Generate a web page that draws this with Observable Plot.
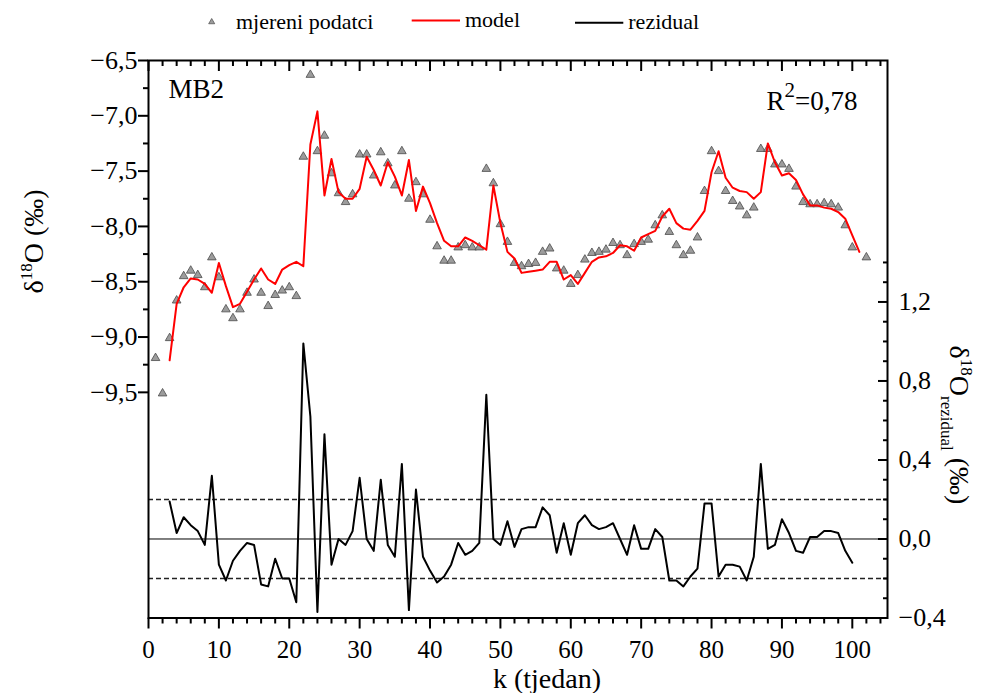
<!DOCTYPE html>
<html><head><meta charset="utf-8">
<script src="https://cdn.jsdelivr.net/npm/d3@7"></script>
<script src="https://cdn.jsdelivr.net/npm/@observablehq/plot@0.6"></script>
<style>
html,body{margin:0;padding:0;background:#fff;}
#chart{width:981px;height:693px;}
</style></head><body><div id="chart"></div>
<script>
// ---------- data ----------
const measuredWeeks = [1,2,3,4,5,6,7,8,9,10,11,12,13,14,15,16,17,18,19,20,21,22,23,24,25,26,27,28,29,30,31,32,33,34,35,36,37,38,39,40,41,42,43,44,45,46,47,48,49,50,51,52,53,54,55,56,57,58,59,60,61,62,63,64,65,66,67,68,69,70,71,72,73,74,75,76,77,78,79,80,81,82,83,84,85,86,87,88,89,90,91,92,93,94,95,96,97,98,99,100,102];
const measuredValues = [-9.19,-9.51,-9.01,-8.67,-8.45,-8.40,-8.44,-8.55,-8.28,-8.46,-8.75,-8.83,-8.75,-8.60,-8.48,-8.60,-8.72,-8.62,-8.58,-8.55,-8.63,-7.37,-6.63,-7.32,-7.18,-7.52,-7.70,-7.78,-7.71,-7.35,-7.35,-7.54,-7.33,-7.43,-7.63,-7.32,-7.75,-7.60,-7.71,-7.94,-8.18,-8.31,-8.31,-8.19,-8.17,-8.19,-8.19,-7.48,-7.61,-7.98,-8.14,-8.33,-8.36,-8.34,-8.33,-8.23,-8.20,-8.38,-8.40,-8.52,-8.44,-8.30,-8.24,-8.23,-8.21,-8.15,-8.17,-8.26,-8.16,-8.14,-8.12,-7.99,-7.90,-8.05,-8.17,-8.26,-8.22,-8.10,-7.68,-7.32,-7.50,-7.68,-7.77,-7.82,-7.90,-7.83,-7.30,-7.30,-7.44,-7.44,-7.48,-7.64,-7.78,-7.80,-7.80,-7.79,-7.80,-7.83,-7.99,-8.19,-8.28];

const modelWeeks = [3,4,5,6,7,8,9,10,11,12,13,14,15,16,17,18,19,20,21,22,23,24,25,26,27,28,29,30,31,32,33,34,35,36,37,38,39,40,41,42,43,44,45,46,47,48,49,50,51,52,53,54,55,56,57,58,59,60,61,62,63,64,65,66,67,68,69,70,71,72,73,74,75,76,77,78,79,80,81,82,83,84,85,86,87,88,89,90,91,92,93,94,95,96,97,98,99,100,101];
const modelValues = [-9.21,-8.70,-8.55,-8.47,-8.48,-8.52,-8.60,-8.33,-8.54,-8.73,-8.70,-8.59,-8.48,-8.38,-8.48,-8.52,-8.39,-8.35,-8.32,-8.36,-7.26,-6.96,-7.72,-7.39,-7.69,-7.75,-7.75,-7.66,-7.37,-7.49,-7.63,-7.42,-7.55,-7.72,-7.40,-7.86,-7.64,-7.79,-7.97,-8.13,-8.18,-8.18,-8.10,-8.13,-8.17,-8.21,-7.63,-7.97,-8.23,-8.29,-8.42,-8.41,-8.40,-8.39,-8.32,-8.32,-8.48,-8.44,-8.52,-8.42,-8.32,-8.28,-8.27,-8.24,-8.17,-8.18,-8.22,-8.10,-8.07,-8.04,-7.91,-7.84,-7.97,-8.02,-8.03,-7.95,-7.86,-7.51,-7.32,-7.56,-7.65,-7.68,-7.69,-7.75,-7.69,-7.25,-7.42,-7.54,-7.52,-7.58,-7.71,-7.81,-7.81,-7.83,-7.84,-7.87,-7.93,-8.08,-8.23];

const residualWeeks = [3,4,5,6,7,8,9,10,11,12,13,14,15,16,17,18,19,20,21,22,23,24,25,26,27,28,29,30,31,32,33,34,35,36,37,38,39,40,41,42,43,44,45,46,47,48,49,50,51,52,53,54,55,56,57,58,59,60,61,62,63,64,65,66,67,68,69,70,71,72,73,74,75,76,77,78,79,80,81,82,83,84,85,86,87,88,89,90,91,92,93,94,95,96,97,98,99,100];
const residualValues = [0.19,0.03,0.11,0.07,0.04,-0.03,0.32,-0.13,-0.21,-0.11,-0.06,-0.02,-0.03,-0.23,-0.24,-0.10,-0.20,-0.20,-0.32,0.99,0.62,-0.37,0.53,-0.13,0.00,-0.03,0.04,0.31,0.00,-0.06,0.30,-0.03,-0.09,0.38,-0.36,0.25,-0.09,-0.16,-0.22,-0.19,-0.13,-0.02,-0.08,-0.06,-0.02,0.73,0.00,-0.03,0.09,-0.04,0.05,0.06,0.06,0.16,0.12,-0.07,0.08,-0.08,0.08,0.12,0.07,0.05,0.06,0.08,0.00,-0.08,0.07,-0.05,-0.05,0.05,0.01,-0.21,-0.21,-0.24,-0.19,-0.15,0.18,0.18,-0.19,-0.13,-0.13,-0.14,-0.21,-0.09,0.38,-0.05,-0.03,0.10,0.03,-0.06,-0.07,0.01,0.01,0.04,0.04,0.03,-0.06,-0.12];

const residualZero = [0];
const residualBand = [-0.2, 0.2];

// tick labels
const xMajorTicks = [0,10,20,30,40,50,60,70,80,90,100];
const xMinorTicks = [2,4,6,8,12,14,16,18,22,24,26,28,32,34,36,38,42,44,46,48,52,54,56,58,62,64,66,68,72,74,76,78,82,84,86,88,92,94,96,98,102,104];
const leftMajorTicks = [-6.5,-7.0,-7.5,-8.0,-8.5,-9.0,-9.5];
const leftMinorTicks = [-6.75,-7.25,-7.75,-8.25,-8.75,-9.25];
const rightMajorTicks = [-0.4,0.0,0.4,0.8,1.2];
const rightMinorTicks = [-0.3,-0.2,-0.1,0.1,0.2,0.3,0.5,0.6,0.7,0.9,1.0,1.1,1.3,1.4];

const legendLabels = ["mjereni podatci", "model", "rezidual"];
const sampleLabel = "MB2";
const r2Label = "0,78";

// ---------- scales ----------
const X_DOMAIN = [0, 105];
const Y_DOMAIN = [-11.54, -6.5];
const R_DOMAIN = [-0.4, 2.4224];
const toLeft = d3.scaleLinear(R_DOMAIN, Y_DOMAIN);
const fromLeft = v => toLeft.invert(v);
const fmt = v => ((Math.round(v * 10) / 10) + 0).toFixed(1).replace(".", ",").replace("-", "\u2212");

const measured = measuredWeeks.map((k, i) => ({k, v: measuredValues[i]}));
const model = modelWeeks.map((k, i) => ({k, v: modelValues[i]}));
const residual = residualWeeks.map((k, i) => ({k, r: residualValues[i]}));

const FONT = "'Liberation Serif', 'Times New Roman', serif";

const plot = Plot.plot({
  width: 981, height: 693,
  marginLeft: 148, marginRight: 94, marginTop: 60, marginBottom: 75.5,
  style: {fontFamily: FONT, fontSize: "26px", color: "#000", background: "#fff", overflow: "visible"},
  x: {domain: X_DOMAIN},
  y: {domain: Y_DOMAIN},
  marks: [
    Plot.ruleY(residualBand, {y: d => toLeft(d), stroke: "#222", strokeWidth: 1.3, strokeDasharray: "5,3"}),
    Plot.ruleY(residualZero, {y: d => toLeft(d), stroke: "#000", strokeWidth: 1}),
    Plot.line(residual, {x: "k", y: d => toLeft(d.r), stroke: "#000", strokeWidth: 2}),
    Plot.dot(measured, {x: "k", y: "v", symbol: "triangle", r: 3.2, fill: "#9c9c9c", stroke: "#4a4a4a", strokeWidth: 0.8}),
    Plot.line(model, {x: "k", y: "v", stroke: "#ff0000", strokeWidth: 2}),
    Plot.frame({stroke: "#000", strokeWidth: 2}),
    // left axis
    Plot.axisY(leftMajorTicks, {anchor: "left", tickSize: 10, tickPadding: 1, strokeWidth: 2, tickFormat: fmt, label: null, fontSize: 26}),
    Plot.axisY(leftMinorTicks, {anchor: "left", tickSize: 5, strokeWidth: 2, tickFormat: () => "", label: null}),
    // right axis (residual)
    Plot.axisY(rightMajorTicks.map(toLeft), {anchor: "right", tickSize: -10, strokeWidth: 2, tickFormat: () => "", label: null}),
    Plot.axisY(rightMinorTicks.map(toLeft), {anchor: "right", tickSize: -5, strokeWidth: 2, tickFormat: () => "", label: null}),
    Plot.axisY(rightMajorTicks.map(toLeft), {anchor: "right", tickSize: 0, tickPadding: 11, tickFormat: d => fmt(fromLeft(d)), label: null, fontSize: 26}),
    // bottom axis
    Plot.axisX(xMajorTicks, {anchor: "bottom", tickSize: 11, tickPadding: 11, strokeWidth: 2, tickFormat: d => String(d), label: null, fontSize: 25}),
    Plot.axisX(xMinorTicks, {anchor: "bottom", tickSize: 6, strokeWidth: 2, tickFormat: () => "", label: null}),
    // top (inward ticks)
    Plot.axisX(xMajorTicks, {anchor: "top", tickSize: -10, strokeWidth: 2, tickFormat: () => "", label: null}),
    Plot.axisX(xMinorTicks, {anchor: "top", tickSize: -5, strokeWidth: 2, tickFormat: () => "", label: null}),
    // annotations
    Plot.text([sampleLabel], {frameAnchor: "top-left", dx: 20, dy: 37, text: d => d, textAnchor: "start", lineAnchor: "bottom", fontSize: 27})
  ]
});

document.getElementById("chart").appendChild(plot);
const svg = d3.select(plot);

// R^2 annotation
const r2 = svg.append("text").attr("x", 857.5).attr("y", 110).attr("text-anchor", "end")
  .attr("font-family", FONT).attr("font-size", 27).attr("fill", "#000");
r2.append("tspan").text("R");
r2.append("tspan").attr("font-size", 21).attr("dy", -13).text("2");
r2.append("tspan").attr("dy", 13).text("=" + r2Label);

// axis titles
const lt = svg.append("text").attr("transform", "translate(43,241.5) rotate(-90)").attr("text-anchor", "middle")
  .attr("font-family", FONT).attr("font-size", 28).attr("fill", "#000");
lt.append("tspan").text("δ");
lt.append("tspan").attr("font-size", 17).attr("dy", -11).text("18");
lt.append("tspan").attr("dy", 11).text("O (‰)");

const rt = svg.append("text").attr("transform", "translate(950,425) rotate(90)").attr("text-anchor", "middle")
  .attr("font-family", FONT).attr("font-size", 28).attr("fill", "#000");
rt.append("tspan").text("δ");
rt.append("tspan").attr("font-size", 17).attr("dy", -11).text("18");
rt.append("tspan").attr("dy", 11).text("O");
rt.append("tspan").attr("font-size", 17).attr("dy", 9).text("rezidual");
rt.append("tspan").attr("dy", -9).text(" (‰)");

svg.append("text").attr("x", 547).attr("y", 687.5).attr("text-anchor", "middle")
  .attr("font-family", FONT).attr("font-size", 28).attr("fill", "#000").text("k (tjedan)");

// legend
const lg = svg.append("g").attr("font-family", FONT).attr("font-size", 22).attr("fill", "#000").attr("text-anchor", "start");
lg.append("path").attr("d", d3.symbol(d3.symbolTriangle, 16)()).attr("transform", "translate(211.7,22)")
  .attr("fill", "#9c9c9c").attr("stroke", "#4a4a4a").attr("stroke-width", 0.7);
lg.append("text").attr("x", 236).attr("y", 29).attr("text-anchor", "start").text(legendLabels[0]);
lg.append("line").attr("x1", 411.7).attr("x2", 460).attr("y1", 20.5).attr("y2", 20.5).attr("stroke", "#ff0000").attr("stroke-width", 2);
lg.append("text").attr("x", 465).attr("y", 27).attr("text-anchor", "start").text(legendLabels[1]);
lg.append("line").attr("x1", 575).attr("x2", 623.3).attr("y1", 22.7).attr("y2", 22.7).attr("stroke", "#000").attr("stroke-width", 2);
lg.append("text").attr("x", 628.3).attr("y", 29).attr("text-anchor", "start").text(legendLabels[2]);
</script></body></html>
